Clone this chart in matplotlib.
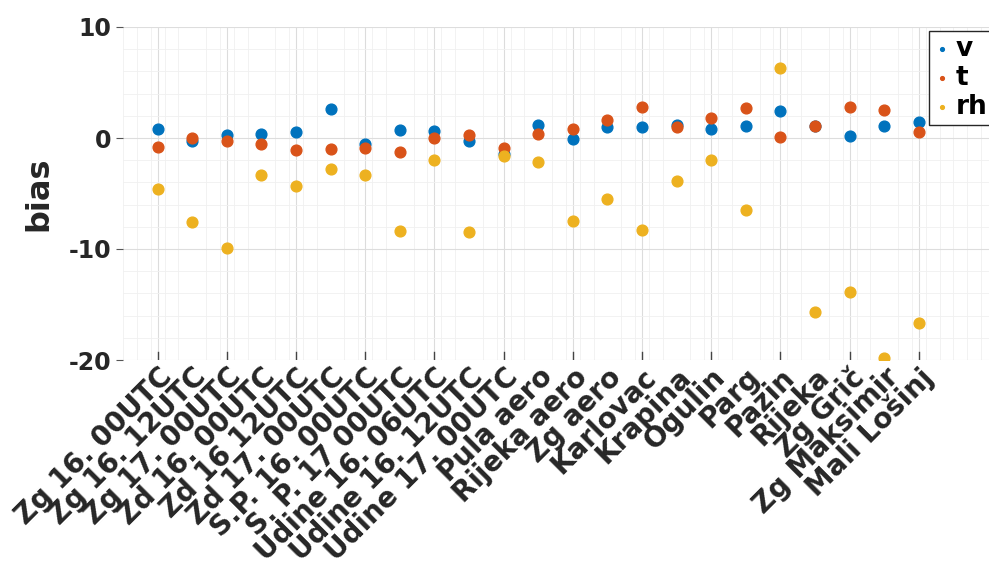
import numpy as np
import matplotlib.pyplot as plt

###--- Data
stations = ["Zg 16. 00UTC", "Zg 16. 12UTC", "Zg 17. 00UTC", "Zd 16. 00UTC",
            "Zd 16 12UTC", "Zd 17. 00UTC", "S.P. 16. 00UTC", "S. P. 17 00UTC",
            "Udine 16. 06UTC", "Udine 16. 12UTC", "Udine 17. 00UTC",
            "Pula aero", "Rijeka aero", "Zg aero", "Karlovac", "Krapina",
            "Ogulin", "Parg", "Pazin", "Rijeka", "Zg Grič", "Zg Maksimir",
            "Mali Lošinj"]

bias_v = [0.8, -0.3, 0.3, 0.4, 0.5, 2.6, -0.5, 0.7, 0.6, -0.3, -1.4,
          1.2, -0.1, 1.0, 1.0, 1.2, 0.8, 1.1, 2.4, 1.1, 0.2, 1.1, 1.4]
bias_t = [-0.8, 0.0, -0.3, -0.5, -1.1, -1.0, -0.9, -1.3, 0.0, 0.3, -0.9,
          0.4, 0.8, 1.6, 2.8, 1.0, 1.8, 2.7, 0.1, 1.1, 2.8, 2.5, 0.5]
bias_rh = [-4.6, -7.6, -9.9, -3.3, -4.3, -2.8, -3.3, -8.4, -2.0, -8.5, -1.6,
           -2.2, -7.5, -5.5, -8.3, -3.9, -2.0, -6.5, 6.3, -15.7, -13.9, -19.8,
           -16.7]

xx = np.arange(1, len(stations) + 1)

###--- Plot
plt.rcParams['font.family'] = 'DejaVu Sans'
plt.rcParams['font.weight'] = 'bold'
plt.rcParams['axes.unicode_minus'] = False

fig = plt.figure(figsize=(9.89, 5.77), dpi=100)
ax = fig.add_axes([123/989, 1 - 360/577, 900/989, 333/577])

ax.scatter(xx, bias_v, s=60, color='#0072BD', label='v', zorder=3)
ax.scatter(xx, bias_t, s=60, color='#D95319', label='t', zorder=3)
ax.scatter(xx, bias_rh, s=60, color='#EDB120', label='rh', zorder=3)

ax.set_ylim(-20, 10)
ax.set_xlim(0, 900/34.6)
ax.set_yticks([-20, -10, 0, 10])
ax.set_yticks(np.arange(-20, 10, 2), minor=True)
ax.set_xticks(xx)
ax.set_xticklabels(stations, rotation=45, ha='right', va='top',
                   rotation_mode='anchor', fontsize=20, fontweight='bold',
                   color='#262626')
ax.set_xticks(np.arange(0, 26, 0.4), minor=True)
ax.tick_params(axis='y', labelsize=17, length=5, color='#555555', labelcolor='#262626')
ax.tick_params(axis='x', length=0, pad=2)
ax.tick_params(which='minor', length=0)

# major vertical grid only every other station
for x in xx[::2]:
    ax.axvline(x, color='#dcdcdc', lw=0.8, zorder=0)
    ax.plot([x, x], [-20, -19.3], color='#444444', lw=1, zorder=1)
ax.grid(True, axis='y', which='major', color='#dddddd', lw=0.8)
ax.grid(True, which='minor', color='#f0f0f0', lw=0.6)
ax.set_axisbelow(True)

for sp in ax.spines.values():
    sp.set_visible(False)

ax.set_ylabel('bias', fontsize=23, fontweight='bold', color='#262626', labelpad=10)

leg = ax.legend(loc='upper left', bbox_to_anchor=(929/989, 1 - 31/577),
                bbox_transform=fig.transFigure, borderaxespad=0, fontsize=19,
                markerscale=0.35, handletextpad=0.2, handlelength=0.6,
                labelspacing=0.1, fancybox=False, edgecolor='#262626',
                framealpha=1, borderpad=0.2)
leg.get_frame().set_linewidth(1)
for txt in leg.get_texts():
    txt.set_fontweight('bold')

fig.savefig('out.png', dpi=100)
